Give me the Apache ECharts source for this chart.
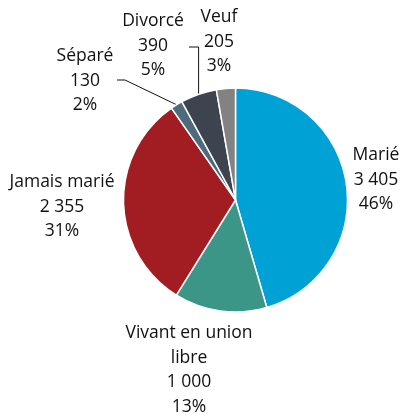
<!DOCTYPE html>
<html>
<head>
<meta charset="utf-8">
<script src="https://cdn.jsdelivr.net/npm/echarts@6/dist/echarts.min.js"></script>
<style>
  html, body { margin: 0; padding: 0; background: #fff; }
  #chart { width: 402px; height: 416px; }
</style>
</head>
<body>
<div id="chart"></div>
<script>
// état matrimonial
const categories = ['Marié', 'Vivant en union\nlibre', 'Jamais marié', 'Séparé', 'Divorcé', 'Veuf']
const values = [3405, 1000, 2355, 130, 390, 205]
const percents = ['46%', '13%', '31%', '2%', '5%', '3%']
const colors = ['#00a1d5', '#3b9688', '#a11d22', '#4e6b7e', '#3d4450', '#828282']
// text anchor of each label (centre of the block)
const labelPos = [
  [376, 180], [189, 370], [62, 207], [85, 81], [153, 46], [219, 42]
]

const CX = 235.5, CY = 200, R = 112
const fmt = (v) => String(v).replace(/\B(?=(\d{3})+(?!\d))/g, ' ')
const total = values.reduce((a, b) => a + b, 0)

// point on the rim at the middle of slice i
const rimPoint = (i) => {
  const before = values.slice(0, i).reduce((a, b) => a + b, 0)
  const mid = (before + values[i] / 2) / total
  const ang = (90 - mid * 360) * Math.PI / 180
  return [CX + R * Math.cos(ang), CY - R * Math.sin(ang)]
}

// guide lines: Séparé bends then goes flat, Divorcé goes straight up then flat
const guide = {
  3: (p) => [p, [125, 80], [117, 80]],
  4: (p) => [p, [p[0], 47], [189, 47]]
}

const chart = echarts.init(document.getElementById('chart'))

chart.setOption({
  animation: false,
  series: [{
    type: 'pie',
    center: [CX, CY],
    radius: [0, R],
    startAngle: 90,
    clockwise: true,
    avoidLabelOverlap: false,
    itemStyle: { borderColor: '#fff', borderWidth: 1.5 },
    label: {
      show: true,
      position: 'outside',
      fontFamily: 'Open Sans',
      fontSize: 17.5,
      lineHeight: 24.5,
      color: '#111',
      align: 'center',
      formatter: (p) => p.name + '\n' + fmt(p.value) + '\n' + percents[p.dataIndex]
    },
    labelLine: {
      lineStyle: { color: '#111', width: 1 },
      length: 8,
      length2: 6
    },
    labelLayout: (params) => {
      const i = params.dataIndex
      const pos = labelPos[i]
      const out = { x: pos[0], y: pos[1], align: 'center', verticalAlign: 'middle' }
      if (guide[i]) out.labelLinePoints = guide[i](rimPoint(i))
      return out
    },
    emphasis: { disabled: true },
    data: categories.map((c, i) => ({
      name: c,
      value: values[i],
      itemStyle: { color: colors[i] },
      labelLine: { show: !!guide[i] }
    }))
  }]
})
</script>
</body>
</html>
